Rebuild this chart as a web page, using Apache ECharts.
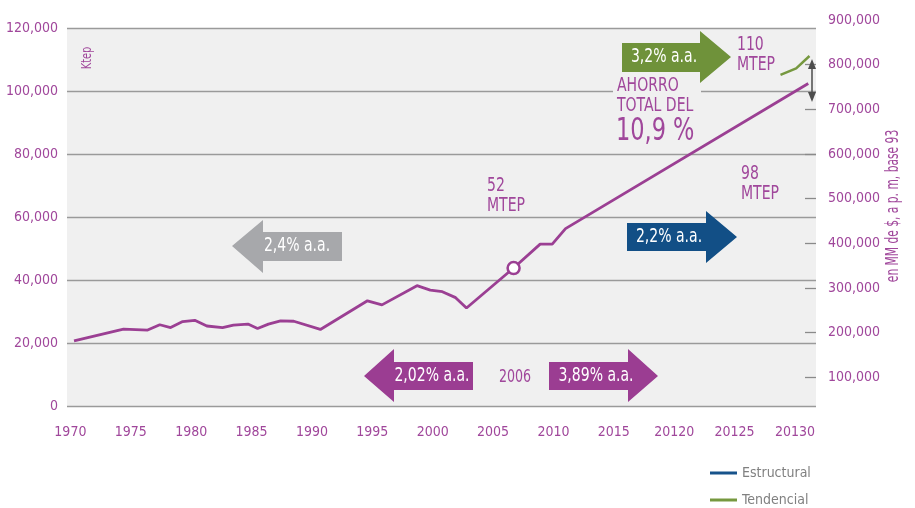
<!DOCTYPE html>
<html>
<head>
<meta charset="utf-8">
<script src="https://cdn.jsdelivr.net/npm/echarts@6/dist/echarts.min.js"></script>
<style>
  html, body { margin: 0; padding: 0; background: #fff; }
  #chart { width: 915px; height: 508px; }
</style>
</head>
<body>
<div id="chart"></div>
<script>
// consumo (Ktep)
const years = [1970.3, 1974.4, 1976.4, 1977.4, 1978.3, 1979.3, 1980.3, 1981.3, 1982.6, 1983.5, 1984.7, 1985.5, 1986.4, 1987.4, 1988.5, 1990.7, 1994.6, 1995.8, 1998.7, 1999.8, 2000.8, 2001.9, 2002.8, 2006.7, 2008.9, 2009.9, 2011.0, 2031.1];
const ktep = [20700, 24400, 24100, 25800, 24900, 26800, 27200, 25400, 24900, 25700, 26000, 24600, 26000, 27000, 26900, 24300, 33400, 32100, 38200, 36800, 36300, 34400, 31100, 43800, 51400, 51400, 56300, 102400];
const markerIndex = 23; // punto 2006
const tendYears = [2028.8, 2030.1, 2031.2];
const tendKtep = [105100, 107200, 111100];
const xTicks = [1970, 1975, 1980, 1985, 1990, 1995, 2000, 2005, 2010, 2015, 2020, 2025, 2030];
const xLabels = ['1970', '1975', '1980', '1985', '1990', '1995', '2000', '2005', '2010', '2015', '20120', '20125', '20130'];
const rightTicks = [100000, 200000, 300000, 400000, 500000, 600000, 700000, 800000];

const purple = '#9b3f93';
const purpleTxt = '#a0479b';
const font = '"DejaVu Sans Condensed", "DejaVu Sans", sans-serif';

function fmt(v) { return v.toLocaleString('en-US'); }

function arrow(points, color) {
  return { type: 'polygon', shape: { points: points }, style: { fill: color }, z: 50 };
}
// texto estrecho: se comprime en horizontal para parecer condensado
function label(x, y, text, size, color, align, sx) {
  return {
    type: 'text', x: x, y: y, z: 60, scaleX: sx || 0.78,
    style: { text: text, fill: color, font: size + 'px ' + font, align: align || 'center', verticalAlign: 'middle' }
  };
}

let chart = echarts.init(document.getElementById('chart'));
let option = {
  animation: false,
  grid: [
    { left: 67, right: 99, top: 28, bottom: 102, show: true, backgroundColor: '#f0f0f0', borderWidth: 0 },
    { left: 67, right: 99, top: 20, bottom: 86 }
  ],
  legend: {
    orient: 'vertical', left: 710, top: 466, padding: 0, itemWidth: 27, itemHeight: 3, itemGap: 13, icon: 'rect',
    textStyle: { color: '#808080', fontFamily: font, fontSize: 14 },
    data: ['Estructural', 'Tendencial']
  },
  xAxis: [{
    type: 'value', gridIndex: 0, min: 1969.72, max: 2031.74,
    axisLine: { show: false }, axisTick: { show: false }, splitLine: { show: false },
    axisLabel: {
      customValues: xTicks, margin: 19, color: purpleTxt, fontFamily: font, fontSize: 14,
      formatter: v => xLabels[xTicks.indexOf(Math.round(v))]
    }
  }, {
    type: 'value', gridIndex: 1, show: false, min: 0, max: 1
  }],
  yAxis: [{
    type: 'value', gridIndex: 0, min: 0, max: 120000, interval: 20000,
    axisLine: { show: false }, axisTick: { show: false },
    splitLine: { lineStyle: { color: '#9a9a9a', width: 1.3 } },
    axisLabel: { margin: 9, color: purpleTxt, fontFamily: font, fontSize: 14, formatter: fmt }
  }, {
    type: 'value', gridIndex: 1, position: 'right', min: 0, max: 900000, interval: 100000,
    axisLine: { show: false, onZero: false }, splitLine: { show: false },
    axisTick: { show: true, inside: true, length: 11, customValues: rightTicks, lineStyle: { color: '#8a8a8a', width: 1.3 } },
    axisLabel: { margin: 12, color: purpleTxt, fontFamily: font, fontSize: 14, showMinLabel: false, formatter: fmt }
  }],
  series: [{
    name: 'Consumo', type: 'line', xAxisIndex: 0, yAxisIndex: 0,
    data: years.map((y, i) => [y, ktep[i]]),
    showSymbol: false, lineStyle: { color: purple, width: 2.8 }, z: 10
  }, {
    type: 'scatter', xAxisIndex: 0, yAxisIndex: 0,
    data: [[years[markerIndex], ktep[markerIndex]]],
    symbolSize: 12, itemStyle: { color: '#fff', borderColor: purple, borderWidth: 2.5, opacity: 1 }, z: 12
  }, {
    name: 'Estructural', type: 'line', data: [], itemStyle: { color: '#17538b' }, lineStyle: { color: '#17538b' }
  }, {
    name: 'Tendencial', type: 'line', xAxisIndex: 0, yAxisIndex: 0,
    data: tendYears.map((y, i) => [y, tendKtep[i]]),
    showSymbol: false, itemStyle: { color: '#76983f' }, lineStyle: { color: '#76983f', width: 2.5 }, z: 10
  }],
  graphic: [
    // etiqueta ahorro con fondo
    { type: 'rect', shape: { x: 613, y: 76, width: 88, height: 70 }, style: { fill: '#f0f0f0' }, z: 40 },
    label(617, 86, 'AHORRO', 20, purpleTxt, 'left'),
    label(617, 106, 'TOTAL DEL', 20, purpleTxt, 'left'),
    label(616, 132, '10,9 %', 32, purpleTxt, 'left'),
    label(737, 45, '110', 20, purpleTxt, 'left'),
    label(737, 65, 'MTEP', 20, purpleTxt, 'left'),
    label(487, 186, '52', 20, purpleTxt, 'left'),
    label(487, 206, 'MTEP', 20, purpleTxt, 'left'),
    label(741, 174, '98', 20, purpleTxt, 'left'),
    label(741, 194, 'MTEP', 20, purpleTxt, 'left'),
    label(515, 377, '2006', 18, purpleTxt, 'center'),
    // flechas
    arrow([[232, 246], [263, 220], [263, 232], [342, 232], [342, 261], [263, 261], [263, 273]], '#a7a8ab'),
    label(297, 246, '2,4% a.a.', 20, '#fff'),
    arrow([[364, 376], [394, 349], [394, 362], [473, 362], [473, 390], [394, 390], [394, 402]], '#9b3d92'),
    label(432, 376, '2,02% a.a.', 20, '#fff'),
    arrow([[549, 362], [628, 362], [628, 349], [658, 376], [628, 402], [628, 390], [549, 390]], '#9b3d92'),
    label(596, 376, '3,89% a.a.', 20, '#fff'),
    arrow([[627, 223], [706, 223], [706, 211], [737, 237], [706, 263], [706, 251], [627, 251]], '#124f86'),
    label(669, 237, '2,2% a.a.', 20, '#fff'),
    arrow([[622, 43], [700, 43], [700, 31], [731, 57], [700, 83], [700, 72], [622, 72]], '#6f923a'),
    label(664, 57, '3,2% a.a.', 20, '#fff'),
    // doble flecha de ahorro
    { type: 'line', shape: { x1: 812, y1: 64, x2: 812, y2: 97 }, style: { stroke: '#4d4d4d', lineWidth: 1.5 }, z: 55 },
    { type: 'polygon', shape: { points: [[812, 59], [808, 69], [816, 69]] }, style: { fill: '#4d4d4d' }, z: 55 },
    { type: 'polygon', shape: { points: [[812, 102], [808, 92], [816, 92]] }, style: { fill: '#4d4d4d' }, z: 55 },
    // titulos de ejes
    { type: 'text', x: 87, y: 58, rotation: Math.PI / 2, scaleX: 0.78, z: 60,
      style: { text: 'Ktep', fill: purpleTxt, font: '14px ' + font, align: 'center', verticalAlign: 'middle' } },
    { type: 'text', x: 894, y: 206, rotation: Math.PI / 2, scaleX: 0.7, z: 60,
      style: { text: 'en MM de $, a p. m, base 93', fill: purpleTxt, font: '17px ' + font, align: 'center', verticalAlign: 'middle' } }
  ]
};
chart.setOption(option);
</script>
</body>
</html>
